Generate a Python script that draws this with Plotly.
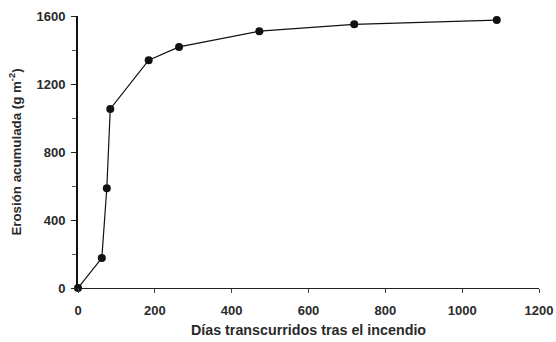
import plotly.graph_objects as go

# Cumulative erosion after the fire
dias = [0, 62, 75, 84, 184, 263, 472, 719, 1090]
erosion = [0, 176, 587, 1053, 1340, 1418, 1511, 1551, 1576]

x_ticks = [0, 200, 400, 600, 800, 1000, 1200]
y_ticks = [0, 400, 800, 1200, 1600]

FONT = "Liberation Sans"
TXT = "#2a2a2a"

fig = go.Figure()
fig.add_trace(go.Scatter(
    x=dias, y=erosion,
    mode="lines+markers",
    line=dict(color="#111111", width=1.2),
    marker=dict(color="#111111", size=8),
    cliponaxis=False,
    showlegend=False,
))

fig.update_layout(
    width=556, height=342,
    margin=dict(l=78, r=17, t=16, b=54),
    paper_bgcolor="white", plot_bgcolor="white",
    font=dict(family=FONT, color=TXT, size=12),
    xaxis=dict(
        range=[0, 1200], tickvals=x_ticks, automargin=False,
        showgrid=False, zeroline=False,
        showline=True, linecolor="#222222", linewidth=1,
        ticks="outside", ticklen=4, tickcolor="#444444",
        ticklabelstandoff=6,
        tickfont=dict(family=FONT, size=13, color=TXT, weight="bold"),
        title=dict(text="Días transcurridos tras el incendio",
                   font=dict(family=FONT, size=14.3, color=TXT, weight="bold"),
                   standoff=8),
    ),
    yaxis=dict(
        range=[0, 1600], tickvals=y_ticks, automargin=False,
        showgrid=False, zeroline=False,
        showline=True, linecolor="#111111", linewidth=2,
        ticks="outside", ticklen=5, tickcolor="#222222",
        ticklabelstandoff=3,
        minor=dict(dtick=200, ticks="outside", ticklen=4, tickcolor="#555555"),
        tickfont=dict(family=FONT, size=13, color=TXT, weight="bold"),
        title=dict(text="Erosión acumulada (g m<sup>-2</sup>)",
                   font=dict(family=FONT, size=13.3, color=TXT, weight="bold"),
                   standoff=12),
    ),
)

fig.write_html("out.html")
